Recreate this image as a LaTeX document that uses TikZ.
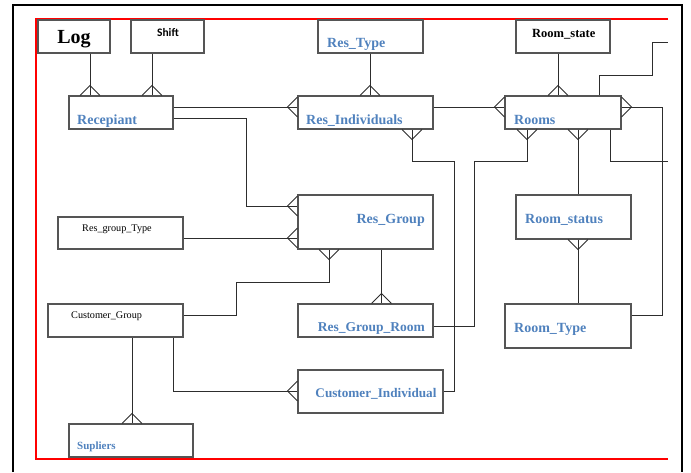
\documentclass[tikz,border=0pt]{standalone}
\usepackage{fontspec}
\setmainfont{Liberation Serif}
\newfontfamily\shiftfont{Carlito}
\usepackage{tikz}
\definecolor{linkColor}{RGB}{45, 45, 45}
\definecolor{boxColor}{RGB}{85, 85, 85}
\definecolor{nameBlue}{RGB}{79, 129, 189}
\definecolor{frameRed}{RGB}{255, 0, 0}
\tikzset{
    er_box/.style={
        draw=boxColor,
        line width=1.1pt,
        inner sep=0pt,
        minimum height=33pt
    },
    er_link/.style={
        draw=linkColor,
        line width=0.9pt
    },
    er_name/.style={
        inner sep=0pt,
        anchor=base west,
        text=nameBlue,
        font=\fontsize{14}{16}\selectfont\bfseries
    },
    er_plain/.style={
        inner sep=0pt,
        anchor=base west,
        font=\fontsize{10.2}{12}\selectfont
    },
    crow_top/.pic={\draw[er_link] (-10,0) -- (0,-10) -- (10,0);},
    crow_bottom/.pic={\draw[er_link] (-10,0) -- (0,10) -- (10,0);},
    crow_left/.pic={\draw[er_link] (0,-10) -- (-10,0) -- (0,10);},
    crow_right/.pic={\draw[er_link] (0,-10) -- (10,0) -- (0,10);}
}
\begin{document}
\begin{tikzpicture}[x=1pt, y=-1pt]
    \useasboundingbox (0,0) rectangle (691,472);
    % page frames
    \draw[line width=1.6pt, black] (13,472) -- (13,5) -- (682,5) -- (682,472);
    \draw[line width=1.6pt, frameRed] (668,19) -- (36,19) -- (36,459) -- (668,459);

    % entities
    \node[er_box, minimum width=72pt] (log) at (74,36.5) {};
    \node[er_box, minimum width=73pt] (shiftbox) at (167.5,36.5) {};
    \node[er_box, minimum width=105pt] (restype) at (370.5,36.5) {};
    \node[er_box, minimum width=94pt] (roomstate) at (563,36.5) {};
    \node[er_box, minimum width=104pt] (recv) at (121,112.5) {};
    \node[er_box, minimum width=135pt] (resind) at (365.5,112.5) {};
    \node[er_box, minimum width=116pt] (rooms) at (563,112.5) {};
    \node[er_box, minimum width=135pt, minimum height=54pt] (resgrp) at (365.5,222) {};
    \node[er_box, minimum width=125pt, minimum height=32pt] (grptype) at (120.5,233) {};
    \node[er_box, minimum width=115pt, minimum height=44pt] (roomstatus) at (573.5,217) {};
    \node[er_box, minimum width=135pt] (custgrp) at (115.5,320.5) {};
    \node[er_box, minimum width=135pt] (grproom) at (365.5,320.5) {};
    \node[er_box, minimum width=126pt, minimum height=44pt] (roomtype) at (568,326) {};
    \node[er_box, minimum width=145pt, minimum height=43pt] (custind) at (370.5,391.5) {};
    \node[er_box, minimum width=124pt] (supl) at (131,440.5) {};

    % entity names
    \node[inner sep=0pt, anchor=base, font=\fontsize{20}{22}\selectfont\bfseries] (t_log) at (74,43) {Log};
    \node[inner sep=0pt, anchor=base, font=\fontsize{11.5}{13}\selectfont\shiftfont\bfseries] (t_shift) at (168,36) {Shift};
    \node[inner sep=0pt, anchor=base west, font=\fontsize{12.5}{14}\selectfont\bfseries] (t_roomstate) at (532,37) {Room\_state};
    \node[er_name] (t_restype) at (327,47) {Res\_Type};
    \node[er_name] (t_recv) at (77,124) {Recepiant};
    \node[er_name] (t_resind) at (306,124) {Res\_Individuals};
    \node[er_name] (t_rooms) at (514,124) {Rooms};
    \node[er_name, anchor=base east] (t_resgrp) at (425,223) {Res\_Group};
    \node[er_plain] (t_grptype) at (82,231) {Res\_group\_Type};
    \node[er_name] (t_roomstatus) at (525,223) {Room\_status};
    \node[er_plain] (t_custgrp) at (71,318) {Customer\_Group};
    \node[er_name, anchor=base east, font=\fontsize{13.5}{16}\selectfont\bfseries] (t_grproom) at (425,331) {Res\_Group\_Room};
    \node[er_name] (t_roomtype) at (514,332) {Room\_Type};
    \node[er_name, anchor=base, font=\fontsize{13.2}{16}\selectfont\bfseries] (t_custind) at (376,397) {Customer\_Individual};
    \node[er_name, font=\fontsize{11}{13}\selectfont\bfseries] (t_supl) at (77,449) {Supliers};

    % loose ends on the right
    \coordinate (offtop) at (668,42);
    \coordinate (offmid) at (668,161);

    % relationships
    \draw[er_link] (log.south -| 90,0) -- (recv.north -| 90,0) pic {crow_top};
    \draw[er_link] (shiftbox.south -| 152,0) -- (recv.north -| 152,0) pic {crow_top};
    \draw[er_link] (restype.south -| 370,0) -- (resind.north -| 370,0) pic {crow_top};
    \draw[er_link] (roomstate.south -| 558,0) -- (rooms.north -| 558,0) pic {crow_top};
    \draw[er_link] (recv.east |- 0,107) -- (resind.west |- 0,107) pic {crow_left};
    \draw[er_link] (recv.east |- 0,118) -| (246,206) -- (resgrp.west |- 0,206) pic {crow_left};
    \draw[er_link] (grptype.east |- 0,238) -- (resgrp.west |- 0,238) pic {crow_left};
    \draw[er_link] (resgrp.south -| 329,0) pic {crow_bottom} -- ++(0,33) -| (236,315) -- (custgrp.east |- 0,315);
    \draw[er_link, line width=1.1pt] (resgrp.south -| 381.5,0) -- (grproom.north -| 381.5,0) pic {crow_top};
    \draw[er_link, line width=1.8pt] (381.5,260) -- (381.5,272);
    \draw[er_link] (resind.south -| 412,0) pic {crow_bottom} |- (454,161) |- (custind.east |- 0,391);
    \draw[er_link] (grproom.east |- 0,326) -| (474,161) -| (rooms.south -| 527,0) pic {crow_bottom};
    \draw[er_link] (rooms.south -| 578,0) pic {crow_bottom} -- (roomstatus.north -| 578,0);
    \draw[er_link] (roomstatus.south -| 578,0) pic {crow_bottom} -- (roomtype.north -| 578,0);
    \draw[er_link] (rooms.south -| 610,0) |- (offmid);
    \draw[er_link] (rooms.north -| 599,0) |- (652,75) |- (offtop);
    \draw[er_link] (rooms.east |- 0,107) pic {crow_right} -| (662,315) -- (roomtype.east |- 0,315);
    \draw[er_link] (resind.east |- 0,107) -- (rooms.west |- 0,107) pic {crow_left};
    \draw[er_link] (custgrp.south -| 132,0) -- (supl.north -| 132,0) pic {crow_top};
    \draw[er_link] (custgrp.south -| 173,0) |- (custind.west |- 0,391) pic {crow_left};
\end{tikzpicture}
\end{document}
